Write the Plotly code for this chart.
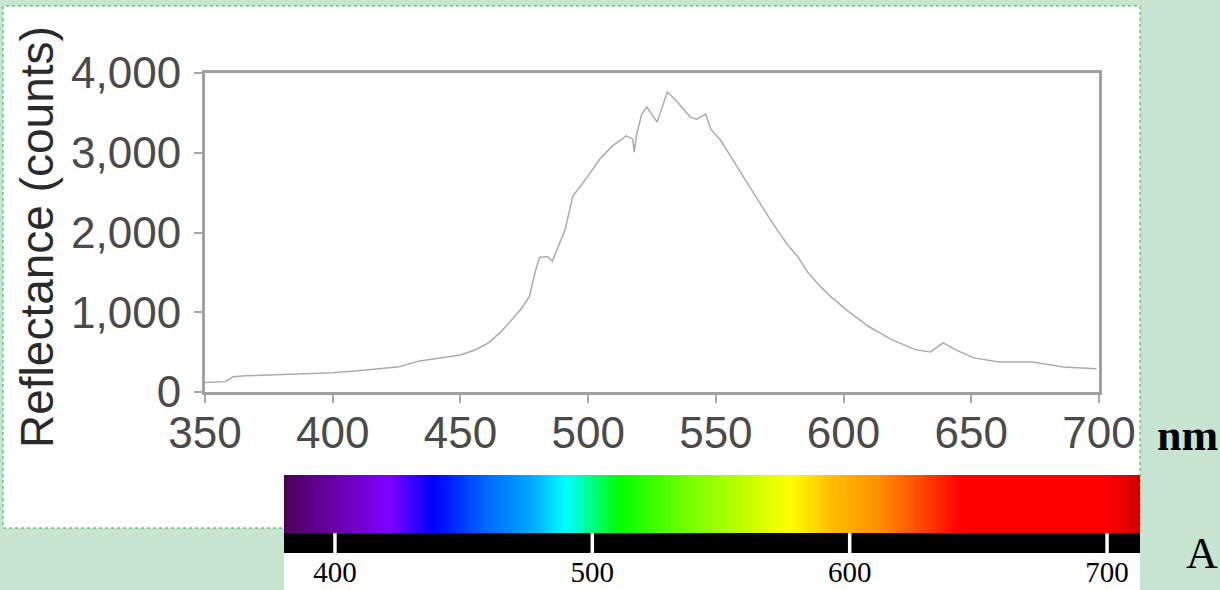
import plotly.graph_objects as go

# Reflectance spectrum (wavelength in nm, counts)
wavelength = [350, 353, 358, 361, 366, 375, 387, 400, 410, 420, 426, 434, 442, 450,
              456, 461, 466, 470, 474, 477, 479.5, 481, 484, 486, 489, 491, 494, 499,
              504.5, 509.5, 515, 517.5, 518, 519, 521, 523, 527, 531, 534.5, 540,
              542.5, 546, 548, 552, 556.5, 564, 572, 578, 582, 586, 591, 595, 602.5,
              610, 619, 628.5, 634, 639, 644, 651, 661, 674, 686, 699]
counts = [120, 125, 130, 190, 205, 212, 226, 240, 268, 300, 318, 390, 430, 465,
          530, 616, 760, 906, 1050, 1199, 1535, 1686, 1700, 1640, 1874, 2038, 2457, 2667,
          2918, 3086, 3212, 3170, 3006, 3233, 3485, 3573, 3384, 3761, 3652, 3447,
          3422, 3485, 3296, 3150, 2918, 2541, 2126, 1850, 1700, 1500, 1321, 1195, 994,
          818, 654, 528, 503, 616, 528, 428, 377, 377, 315, 290]

# Visible-spectrum colour strip
strip_range = [380.2, 712.8]
strip_stops = [380, 400, 421, 438, 457, 476, 490, 510, 540, 552, 577, 592, 611, 626, 643, 700, 713]
strip_colors = ["#4c0058", "#6a00a8", "#8000ff", "#0000ff", "#0060ff", "#00a8ff", "#00ffff",
                "#00ff00", "#80ff00", "#a8ff00", "#ffff00", "#ffc000", "#ff9000", "#ff5000",
                "#ff0000", "#ff0000", "#d00000"]
strip_ticks = [400, 500, 600, 700]

y_ticks = [0, 1000, 2000, 3000, 4000]
x_ticks = [350, 400, 450, 500, 550, 600, 650, 700]

W, H = 1220, 590
ML, MR, MT, MB = 205, 80, 73, 37
PW, PH = W - ML - MR, H - MT - MB


def fx(px):
    return (px - ML) / PW


def fy(py):
    return (H - MB - py) / PH


fig = go.Figure()

fig.add_trace(go.Scatter(
    x=wavelength, y=counts, mode="lines",
    line=dict(color="#ababab", width=1.5),
    xaxis="x", yaxis="y", showlegend=False, hoverinfo="skip"))

# colour strip as a one-row heatmap
n = 400
step = (strip_range[1] - strip_range[0]) / n
edges = [strip_range[0] + i * step for i in range(n + 1)]
centers = [(edges[i] + edges[i + 1]) / 2 for i in range(n)]
zmin, zmax = strip_stops[0], strip_stops[-1]
cscale = [[(s - zmin) / (zmax - zmin), c] for s, c in zip(strip_stops, strip_colors)]
band_bottom = 20 / 78
fig.add_trace(go.Heatmap(
    x=edges, y=[band_bottom, 1.0], z=[centers],
    colorscale=cscale, zmin=zmin, zmax=zmax, showscale=False,
    xaxis="x2", yaxis="y2", hoverinfo="skip"))

shapes = [
    # white panel behind the chart
    dict(type="rect", xref="paper", yref="paper",
         x0=fx(3), x1=fx(1140), y0=fy(528), y1=fy(6),
         fillcolor="white", line=dict(color="#3aa84a", width=1, dash="dot"), layer="below"),
    dict(type="rect", xref="paper", yref="paper",
         x0=fx(284), x1=fx(1140), y0=fy(590), y1=fy(527),
         fillcolor="white", line=dict(width=0), layer="below"),
    # black scale bar under the colour strip
    dict(type="rect", xref="x2", yref="y2",
         x0=strip_range[0], x1=strip_range[1], y0=0, y1=band_bottom,
         fillcolor="black", line=dict(width=0), layer="above"),
]
for t in strip_ticks:
    shapes.append(dict(type="line", xref="x2", yref="y2", x0=t, x1=t, y0=0, y1=band_bottom,
                       line=dict(color="white", width=3.5), layer="above"))

axis_font = dict(family="Liberation Sans, Arial, sans-serif", size=44, color="#4a4a4a")
serif = "Liberation Serif, Times New Roman, serif"

fig.update_layout(
    width=W, height=H,
    margin=dict(l=ML, r=MR, t=MT, b=MB, autoexpand=False),
    paper_bgcolor="#c6e4d0",
    plot_bgcolor="rgba(0,0,0,0)",
    showlegend=False,
    xaxis=dict(domain=[0, fx(1099)], range=[350, 700], tickvals=x_ticks,
               showgrid=False, zeroline=False, showline=True, mirror=True,
               linecolor="#a0a0a0", linewidth=3, ticks="outside", ticklen=8,
               tickwidth=2, tickcolor="#a8a8a8", tickfont=axis_font,
               ticklabelstandoff=-8, anchor="y", automargin=False),
    yaxis=dict(domain=[fy(392), 1], range=[0, 4000], tickvals=y_ticks,
               tickformat=",", showgrid=False, zeroline=False, showline=True,
               mirror=True, linecolor="#a0a0a0", linewidth=3, ticks="outside",
               ticklen=8, tickwidth=2, tickcolor="#a8a8a8", tickfont=axis_font,
               ticklabelstandoff=4, anchor="x", automargin=False),
    xaxis2=dict(domain=[fx(284), 1], range=strip_range, tickvals=strip_ticks,
                showgrid=False, zeroline=False, showline=False, ticks="",
                tickfont=dict(family=serif, size=29, color="black"),
                ticklabelstandoff=-1, anchor="y2", automargin=False),
    yaxis2=dict(domain=[0, fy(475)], range=[0, 1], visible=False, anchor="x2",
                automargin=False),
    shapes=shapes,
    annotations=[
        dict(text="Reflectance (counts)", xref="paper", yref="paper",
             x=fx(37), y=fy(237), textangle=-90, showarrow=False,
             xanchor="center", yanchor="middle",
             font=dict(family="Liberation Sans, Arial, sans-serif", size=46, color="#2a2a2a")),
        dict(text="<b>nm</b>", xref="paper", yref="paper", x=fx(1155), y=fy(435),
             showarrow=False, xanchor="left", yanchor="middle",
             font=dict(family=serif, size=44, color="black")),
        dict(text="A", xref="paper", yref="paper", x=fx(1184), y=fy(553),
             showarrow=False, xanchor="left", yanchor="middle",
             font=dict(family=serif, size=44, color="black")),
    ],
)

fig.write_html("out.html")
